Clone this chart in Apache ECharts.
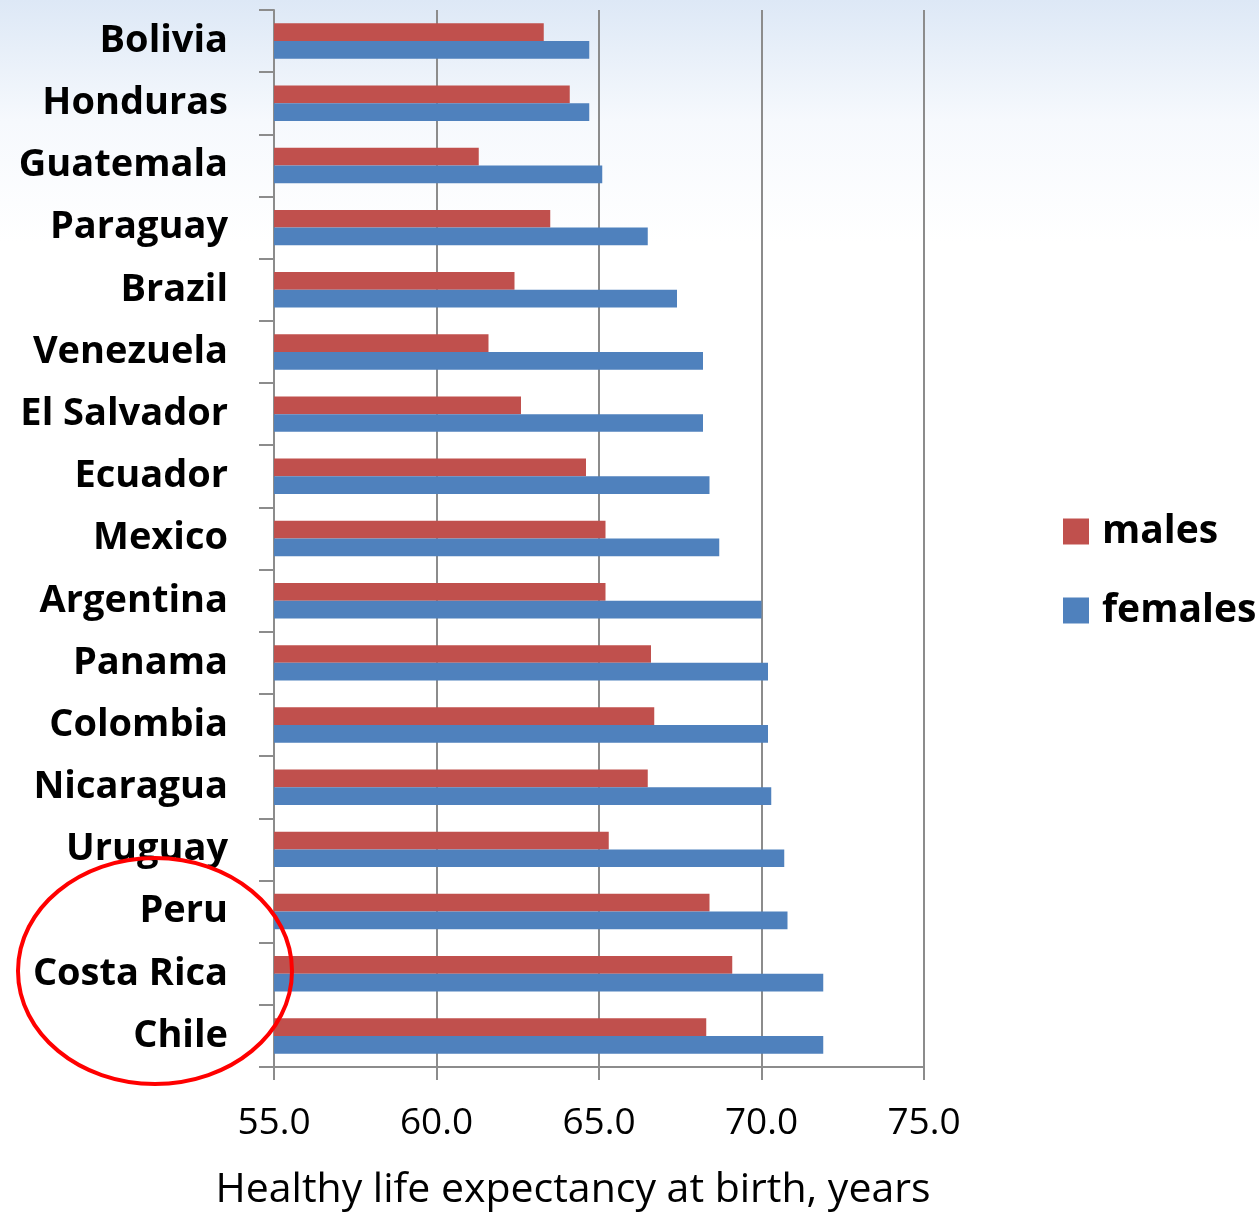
<!DOCTYPE html>
<html>
<head>
<meta charset="utf-8">
<script src="https://cdn.jsdelivr.net/npm/echarts@6/dist/echarts.min.js"></script>
<style>
  html, body { margin: 0; padding: 0; background: #fff; }
  #chart { width: 1259px; height: 1213px; }
</style>
</head>
<body>
<div id="chart"></div>
<script>
// Healthy life expectancy at birth (years), by country and sex
const countries = ['Bolivia', 'Honduras', 'Guatemala', 'Paraguay', 'Brazil', 'Venezuela',
  'El Salvador', 'Ecuador', 'Mexico', 'Argentina', 'Panama', 'Colombia', 'Nicaragua',
  'Uruguay', 'Peru', 'Costa Rica', 'Chile'];
const males = [63.3, 64.1, 61.3, 63.5, 62.4, 61.6, 62.6, 64.6, 65.2, 65.2, 66.6, 66.7, 66.5,
  65.3, 68.4, 69.1, 68.3];
const females = [64.7, 64.7, 65.1, 66.5, 67.4, 68.2, 68.2, 68.4, 68.7, 70.0, 70.2, 70.2, 70.3,
  70.7, 70.8, 71.9, 71.9];
const seriesNames = ['males', 'females'];
const xTicks = { min: 55, max: 75, interval: 5 };

const chart = echarts.init(document.getElementById('chart'));
const gray = '#8c8c8c';
const labelFont = '"Open Sans", "Noto Sans", sans-serif';

chart.setOption({
  backgroundColor: {
    type: 'linear', x: 0, y: 0, x2: 0, y2: 1,
    colorStops: [
      { offset: 0, color: '#dde8f6' },
      { offset: 0.1, color: '#f6f9fd' },
      { offset: 0.2, color: '#ffffff' },
      { offset: 1, color: '#ffffff' }
    ]
  },
  animation: false,
  grid: { left: 274, right: 335, top: 10, bottom: 146, containLabel: false, outerBoundsMode: 'none' },
  legend: {
    orient: 'vertical',
    left: 1058,
    top: 507,
    itemWidth: 26,
    itemHeight: 26,
    itemGap: 40,
    icon: 'rect',
    data: seriesNames,
    textStyle: { fontFamily: labelFont, fontWeight: 'bold', fontSize: 39, color: '#000', padding: [0, 0, 0, 8] }
  },
  xAxis: {
    type: 'value',
    min: xTicks.min,
    max: xTicks.max,
    interval: xTicks.interval,
    name: 'Healthy life expectancy at birth, years',
    nameLocation: 'middle',
    nameGap: 103,
    nameTextStyle: { fontFamily: labelFont, fontSize: 41, color: '#000', padding: [0, 52, 0, 0] },
    axisLine: { show: true, lineStyle: { color: gray, width: 2 } },
    axisTick: { show: true, length: 13, lineStyle: { color: gray, width: 2 } },
    axisLabel: {
      margin: 38,
      fontFamily: labelFont, fontSize: 37, color: '#000',
      formatter: v => v.toFixed(1)
    },
    splitLine: { show: true, lineStyle: { color: gray, width: 2 } }
  },
  yAxis: {
    type: 'category',
    data: countries,
    inverse: true,
    axisLine: { show: true, lineStyle: { color: gray, width: 2 } },
    axisTick: { show: true, length: 15, lineStyle: { color: gray, width: 2 } },
    axisLabel: {
      margin: 46,
      fontFamily: labelFont, fontWeight: 'bold', fontSize: 38, color: '#000'
    }
  },
  series: [
    {
      name: seriesNames[0], type: 'bar', data: males,
      barCategoryGap: '43%', barGap: '0%',
      itemStyle: { color: '#c0504d' }
    },
    {
      name: seriesNames[1], type: 'bar', data: females,
      barCategoryGap: '43%', barGap: '0%',
      itemStyle: { color: '#4f81bd' }
    }
  ],
  graphic: [
    {
      type: 'ellipse',
      shape: { cx: 155, cy: 971, rx: 137, ry: 113 },
      style: { fill: 'none', stroke: '#ff0000', lineWidth: 4 },
      z: 100
    }
  ]
});
</script>
</body>
</html>
